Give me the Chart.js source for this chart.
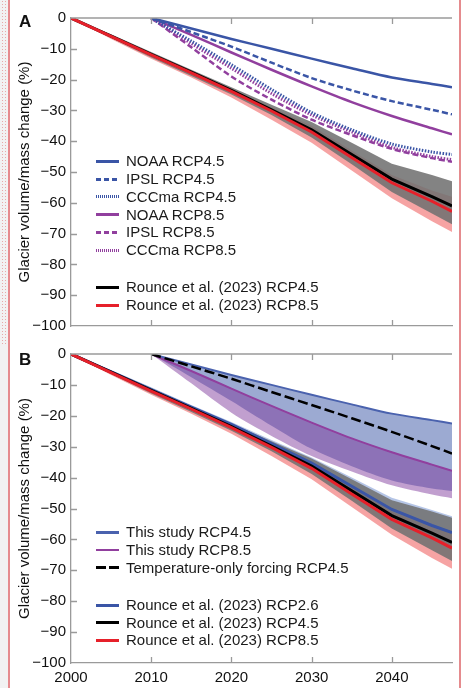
<!DOCTYPE html>
<html><head><meta charset="utf-8">
<script src="https://cdn.jsdelivr.net/npm/chart.js@4"></script>
<style>
html,body{margin:0;padding:0;background:#fff;}
body{width:462px;height:688px;position:relative;overflow:hidden;font-family:"Liberation Sans",Arial,Helvetica,sans-serif;}
canvas{position:absolute;left:0;}
#cA{top:0;}
#cB{top:340px;}
.strip{position:absolute;left:0;top:0;width:8px;height:688px;background:#f2f2f2;}
.dots{position:absolute;left:1px;top:0;width:7px;height:345px;background-image:radial-gradient(rgba(225,110,110,0.55) 0.6px, transparent 0.9px);background-size:3px 3px;}
.vr{position:absolute;top:0;width:2px;height:688px;background:#e58b8e;}
.lbl{position:absolute;font-weight:bold;font-size:17px;line-height:17px;color:#111;}
.row{position:absolute;left:96px;height:18px;width:300px;font-size:15px;line-height:18px;color:#1a1a1a;white-space:nowrap;}
.sw{position:absolute;left:0;top:7.5px;width:23px;height:3px;}
.tx{position:absolute;left:30px;top:0;}
</style></head>
<body>
<div class="strip"></div><div class="dots"></div>
<div class="vr" style="left:8px"></div>
<div class="vr" style="left:459px"></div>
<canvas id="cA" width="462" height="340"></canvas>
<canvas id="cB" width="462" height="348"></canvas>
<div class="lbl" style="left:19px;top:13px">A</div>
<div class="lbl" style="left:19px;top:351px">B</div>
<div id="legend"></div>
<script>
// ---------- data ----------
const modelYears = [2010, 2015, 2020, 2025, 2030, 2035, 2040, 2045, 2047.5];
const noaa45  = [0, -3.4, -6.8, -10.0, -13.2, -16.3, -19.3, -21.4, -22.5];
const ipsl45  = [0, -4.6, -9.3, -14.5, -19.5, -23.5, -27.0, -29.8, -31.3];
const cccma45 = [0, -7.5, -15.2, -23.2, -30.7, -36.3, -40.9, -43.5, -44.3];
const noaa85  = [0, -5.5, -11.2, -16.8, -22.2, -27.3, -31.8, -35.8, -37.8];
const ipsl85  = [0, -9.5, -19.0, -26.5, -33.0, -38.0, -42.5, -45.5, -46.7];
const cccma85 = [0, -8.3, -16.3, -24.5, -31.5, -37.0, -42.0, -45.0, -46.0];
const tempOnly45 = [0, -4.0, -8.0, -12.3, -16.5, -20.8, -25.2, -29.8, -32.2];

const rounceYears = [2000, 2005, 2010, 2015, 2020, 2025, 2030, 2035, 2040, 2045, 2047.5];
const rounce26   = [0, -5.8, -11.5, -17.2, -22.8, -29.0, -35.3, -42.8, -50.3, -55.5, -57.8];
const rounce26Hi = [0, -5.2, -10.8, -16.5, -22.0, -27.8, -33.5, -40.0, -46.5, -50.5, -52.5];
const rounce26Lo = [0, -6.3, -12.3, -18.0, -23.8, -30.3, -37.2, -45.5, -54.0, -59.5, -62.0];
const rounce45   = [0, -5.9, -11.8, -17.6, -23.5, -29.8, -36.3, -44.3, -52.3, -58.0, -61.0];
const rounce45Hi = [0, -5.3, -11.0, -16.8, -22.5, -28.2, -33.8, -40.5, -47.3, -51.0, -53.0];
const rounce45Lo = [0, -6.5, -12.8, -18.8, -24.8, -31.5, -38.8, -47.5, -56.5, -63.5, -67.0];
const rounce85   = [0, -6.0, -12.0, -17.8, -23.8, -30.2, -37.0, -45.3, -53.5, -59.5, -62.8];
const rounce85Hi = [0, -5.5, -11.3, -17.0, -23.0, -29.0, -35.0, -43.0, -51.0, -56.0, -58.0];
const rounce85Lo = [0, -6.8, -13.2, -19.3, -25.8, -33.0, -40.5, -49.5, -58.5, -66.0, -69.5];

const xTicks = [2000, 2010, 2020, 2030, 2040];
const yTicks = [0, -10, -20, -30, -40, -50, -60, -70, -80, -90, -100];
const yTitle = 'Glacier volume/mass change (%)';

const legendA = [
  ['NOAA RCP4.5', 'blue', 'solid'], ['IPSL RCP4.5', 'blue', 'dash'], ['CCCma RCP4.5', 'blue', 'dot'],
  ['NOAA RCP8.5', 'purple', 'solid'], ['IPSL RCP8.5', 'purple', 'dash'], ['CCCma RCP8.5', 'purple', 'dot'],
  null,
  ['Rounce et al. (2023) RCP4.5', 'black', 'solid'], ['Rounce et al. (2023) RCP8.5', 'red', 'solid']
];
const legendB = [
  ['This study RCP4.5', 'blue2', 'thin'], ['This study RCP8.5', 'purple', 'thin'], ['Temperature-only forcing RCP4.5', 'black', 'long'],
  null,
  ['Rounce et al. (2023) RCP2.6', 'blue', 'solid'], ['Rounce et al. (2023) RCP4.5', 'black', 'solid'], ['Rounce et al. (2023) RCP8.5', 'red', 'solid']
];

// ---------- styles ----------
const C = {
  blue: '#3a55a6', blue2: '#4a62ae', purple: '#913f9e', black: '#000000', red: '#e6202a',
  grayBand: 'rgba(114,114,114,0.88)', redBand: 'rgba(235,50,50,0.45)', blueBand26: 'rgba(120,150,210,0.55)',
  studyBlue: 'rgba(58,85,165,0.5)', studyPurple: 'rgba(125,55,155,0.48)', axis: '#9a9a9a'
};
const FONT = 'Liberation Sans, Arial, Helvetica, sans-serif';

function pts(xs, ys) { return xs.map((x, i) => ({x: x, y: ys[i]})); }
function line(xs, ys, color, width, dash, order, tension) {
  return {data: pts(xs, ys), borderColor: color, borderWidth: width, borderDash: dash || [],
    pointRadius: 0, fill: false, tension: tension || 0, order: order, borderCapStyle: 'butt'};
}
function band(list, xs, hi, lo, color, order, tension) {
  list.push({data: pts(xs, lo), borderWidth: 0, borderColor: 'transparent', pointRadius: 0, fill: false, order: order, tension: tension || 0});
  const idx = list.length - 1;
  list.push({data: pts(xs, hi), borderWidth: 0, borderColor: 'transparent', pointRadius: 0,
    fill: {target: idx}, backgroundColor: color, order: order, tension: tension || 0});
}

const axisPlugin = {
  id: 'axisDeco',
  afterDraw(chart) {
    const {ctx, chartArea: a, scales: {x, y}} = chart;
    ctx.save();
    ctx.strokeStyle = C.axis; ctx.lineWidth = 1.3;
    ctx.beginPath();
    ctx.moveTo(a.left, a.top); ctx.lineTo(a.right, a.top);
    xTicks.forEach(v => {
      if (v === 2000) return;
      const px = Math.round(x.getPixelForValue(v)) + 0.5;
      ctx.moveTo(px, a.bottom); ctx.lineTo(px, a.bottom - 6);
      ctx.moveTo(px, a.top); ctx.lineTo(px, a.top + 6);
    });
    yTicks.forEach(v => {
      if (v === 0 || v === -100) return;
      const py = Math.round(y.getPixelForValue(v)) + 0.5;
      ctx.moveTo(a.left, py); ctx.lineTo(a.left + 6, py);
    });
    ctx.stroke();
    ctx.restore();
  }
};

function makeChart(id, datasets, showX, xHeight, padTop) {
  return new Chart(document.getElementById(id), {
    type: 'line',
    data: {datasets: datasets},
    plugins: [axisPlugin],
    options: {
      responsive: false, animation: false, devicePixelRatio: 1,
      layout: {padding: {top: padTop, right: 10, left: 0, bottom: 0}},
      plugins: {legend: {display: false}, tooltip: {enabled: false}},
      scales: {
        x: {
          type: 'linear', min: 2000, max: 2047.5,
          afterBuildTicks: s => { s.ticks = xTicks.map(v => ({value: v})); },
          afterFit: s => { s.height = xHeight; },
          grid: {display: false, drawTicks: false},
          border: {display: true, color: C.axis, width: 1.3},
          ticks: {display: showX, padding: 6, color: '#111', font: {family: FONT, size: 15}, maxRotation: 0, autoSkip: false,
            callback: v => String(v)}
        },
        y: {
          type: 'linear', min: -100, max: 0,
          afterBuildTicks: s => { s.ticks = yTicks.map(v => ({value: v})); },
          afterFit: s => { s.width = 71; },
          grid: {display: false, drawTicks: false},
          border: {display: true, color: C.axis, width: 1.3},
          ticks: {padding: 5, color: '#111', font: {family: FONT, size: 15},
            callback: v => v < 0 ? '\u2212' + Math.abs(v) : String(v)},
          title: {display: true, text: yTitle, color: '#111', font: {family: FONT, size: 15}, padding: {top: 16, bottom: 0}}
        }
      }
    }
  });
}

// ---------- panel A ----------
const dsA = [];
band(dsA, rounceYears, rounce85Hi, rounce85Lo, C.redBand, 30);
band(dsA, rounceYears, rounce45Hi, rounce45Lo, C.grayBand, 20);
dsA.push(line(rounceYears, rounce45, C.black, 3, [], 11));
dsA.push(line(rounceYears, rounce85, C.red, 3, [], 10));
dsA.push(line(modelYears, noaa45, C.blue, 2.5, [], 5, 0.3));
dsA.push(line(modelYears, ipsl45, C.blue, 2.5, [6, 3], 5, 0.3));
dsA.push(line(modelYears, cccma45, C.blue, 3, [1.5, 1.5], 4, 0.3));
dsA.push(line(modelYears, noaa85, C.purple, 2.5, [], 5, 0.3));
dsA.push(line(modelYears, ipsl85, C.purple, 2.5, [6, 3], 5, 0.3));
dsA.push(line(modelYears, cccma85, C.purple, 3, [1.5, 1.5], 6, 0.3));
makeChart('cA', dsA, false, 12, 18);

// ---------- panel B ----------
const dsB = [];
band(dsB, rounceYears, rounce26Hi, rounce26Lo, C.blueBand26, 40);
band(dsB, rounceYears, rounce85Hi, rounce85Lo, C.redBand, 30);
band(dsB, rounceYears, rounce45Hi, rounce45Lo, C.grayBand, 20);
dsB.push(line(rounceYears, rounce26, C.blue, 3, [], 12));
dsB.push(line(rounceYears, rounce45, C.black, 3, [], 11));
dsB.push(line(rounceYears, rounce85, C.red, 3, [], 10));
band(dsB, modelYears, noaa45, cccma45, C.studyBlue, 50, 0.3);
band(dsB, modelYears, noaa85, ipsl85, C.studyPurple, 45, 0.3);
dsB.push(line(modelYears, noaa45, C.blue2, 2, [], 6, 0.3));
dsB.push(line(modelYears, noaa85, C.purple, 2, [], 6, 0.3));
dsB.push(line(modelYears, tempOnly45, C.black, 2.5, [10, 4], 5, 0.3));
makeChart('cB', dsB, true, 25, 14);

// ---------- legends ----------
function swatchCss(color, style) {
  const c = C[color];
  if (style === 'dash') return `background:repeating-linear-gradient(to right, ${c} 0 5px, transparent 5px 8px);`;
  if (style === 'dot') return `background:repeating-linear-gradient(to right, ${c} 0 1px, transparent 1px 2px);`;
  if (style === 'long') return `background:repeating-linear-gradient(to right, ${c} 0 10px, transparent 10px 13px);`;
  if (style === 'thin') return `background:${c};height:2.5px;top:7.8px;`;
  return `background:${c};`;
}
function buildLegend(items, centers) {
  const host = document.getElementById('legend');
  let k = 0;
  items.forEach(it => {
    if (!it) return;
    const cy = centers[k++];
    const row = document.createElement('div');
    row.className = 'row';
    row.style.top = (cy - 9) + 'px';
    row.innerHTML = `<div class="sw" style="${swatchCss(it[1], it[2])}"></div><div class="tx"></div>`;
    row.querySelector('.tx').textContent = it[0];
    host.appendChild(row);
  });
}
buildLegend(legendA, [161, 179, 196.7, 214.7, 232.3, 250, 287.3, 305]);
buildLegend(legendB, [532.3, 550, 567.7, 605, 622.7, 640]);
</script>
</body></html>
